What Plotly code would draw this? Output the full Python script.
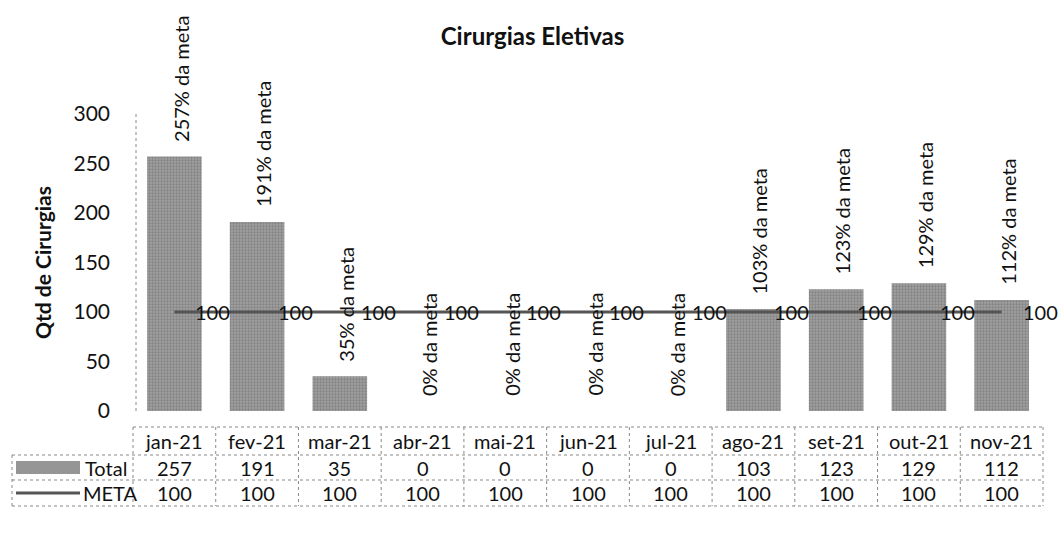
import plotly.graph_objects as go

categories = ["jan-21", "fev-21", "mar-21", "abr-21", "mai-21", "jun-21",
              "jul-21", "ago-21", "set-21", "out-21", "nov-21"]
total = [257, 191, 35, 0, 0, 0, 0, 103, 123, 129, 112]
meta = [100, 100, 100, 100, 100, 100, 100, 100, 100, 100, 100]
pct_labels = ["257% da meta", "191% da meta", "35% da meta", "0% da meta", "0% da meta",
              "0% da meta", "0% da meta", "103% da meta", "123% da meta", "129% da meta",
              "112% da meta"]

W, H = 1058, 534
L, R = 133, 1043
T, B = 114, 411
FONT = "Lato"
TXT = "#111"

def px_x(px):
    return (px - L) / (R - L)

def px_y(py):
    return (B - py) / (B - T)

fig = go.Figure()
fig.add_trace(go.Bar(x=categories, y=total, name="Total", width=0.66,
                     marker=dict(color="#959595", line=dict(width=0),
                                 pattern=dict(shape=".", fgcolor="#666666", bgcolor="#a0a0a0",
                                              size=3, solidity=0.45)),
                     hoverinfo="skip"))
fig.add_trace(go.Scatter(x=categories, y=meta, name="META", mode="lines",
                         line=dict(color="#555555", width=3), hoverinfo="skip"))

ann = []
# percent labels above bars
for c, v, t in zip(categories, total, pct_labels):
    ann.append(dict(x=c, y=v, xref="x", yref="y", text=t, textangle=-90, showarrow=False,
                    xanchor="center", yanchor="bottom", yshift=13, xshift=6,
                    font=dict(family=FONT, size=20, color=TXT)))
# META value labels
for c, v in zip(categories, meta):
    ann.append(dict(x=c, y=v, xref="x", yref="y", text=str(v), showarrow=False,
                    xanchor="left", yanchor="middle", xshift=19,
                    font=dict(family=FONT, size=20, color=TXT)))

# data table
row_hdr = px_y(441)
row_tot = px_y(467.5)
row_meta = px_y(493)
for c, tv, mv in zip(categories, total, meta):
    for yy, txt in ((row_hdr, c), (row_tot, str(tv)), (row_meta, str(mv))):
        ann.append(dict(x=c, y=yy, xref="x", yref="paper", text=txt, showarrow=False,
                        xanchor="center", yanchor="middle",
                        font=dict(family=FONT, size=20, color=TXT)))
ann.append(dict(x=px_x(83), y=row_tot, xref="paper", yref="paper", text="Total", showarrow=False,
                xanchor="left", yanchor="middle", font=dict(family=FONT, size=20, color=TXT)))
ann.append(dict(x=px_x(81), y=row_meta, xref="paper", yref="paper", text="META", showarrow=False,
                xanchor="left", yanchor="middle", font=dict(family=FONT, size=20, color=TXT)))

shapes = []
dot = dict(color="#888", width=1, dash="dot")
# y axis line
shapes.append(dict(type="line", xref="paper", yref="paper", x0=px_x(136), x1=px_x(136),
                   y0=px_y(T), y1=px_y(411), line=dot))
# horizontal table lines
shapes.append(dict(type="line", xref="paper", yref="paper", x0=0, x1=1,
                   y0=px_y(427), y1=px_y(427), line=dot))
for py in (455, 480, 506):
    shapes.append(dict(type="line", xref="paper", yref="paper", x0=px_x(12), x1=1,
                       y0=px_y(py), y1=px_y(py), line=dot))
# vertical table lines
n = len(categories)
for i in range(n + 1):
    xp = i / n
    shapes.append(dict(type="line", xref="paper", yref="paper", x0=xp, x1=xp,
                       y0=px_y(427), y1=px_y(506), line=dot))
shapes.append(dict(type="line", xref="paper", yref="paper", x0=px_x(12), x1=px_x(12),
                   y0=px_y(455), y1=px_y(506), line=dot))
# legend keys
shapes.append(dict(type="rect", xref="paper", yref="paper", x0=px_x(16), x1=px_x(80),
                   y0=px_y(474), y1=px_y(461), fillcolor="#959595", line=dict(width=0)))
shapes.append(dict(type="line", xref="paper", yref="paper", x0=px_x(16), x1=px_x(80),
                   y0=row_meta, y1=row_meta, line=dict(color="#555555", width=3)))

fig.update_layout(
    width=W, height=H,
    margin=dict(l=L, r=W - R, t=T, b=H - B, pad=0),
    paper_bgcolor="white", plot_bgcolor="white",
    showlegend=False,
    title=dict(text="<b>Cirurgias Eletivas</b>", x=(437 + 628) / 2 / W, xanchor="center",
               y=1 - 37 / H, yanchor="middle", font=dict(family=FONT, size=24, color=TXT)),
    annotations=ann, shapes=shapes,
    font=dict(family=FONT, size=20, color=TXT),
)
fig.update_xaxes(showticklabels=False, showgrid=False, zeroline=False, showline=False,
                 range=[-0.5, n - 0.5])
fig.update_yaxes(range=[0, 300], tickvals=[0, 50, 100, 150, 200, 250, 300], showgrid=False,
                 zeroline=False, showline=False, ticks="", ticklabelstandoff=22,
                 tickfont=dict(family=FONT, size=21, color=TXT),
                 title=dict(text="<b>Qtd de Cirurgias</b>", standoff=16,
                            font=dict(family=FONT, size=21, color=TXT)))
fig.write_html("out.html", config={"displayModeBar": False},
               post_script="document.body.style.margin='0';document.body.style.padding='0';")
